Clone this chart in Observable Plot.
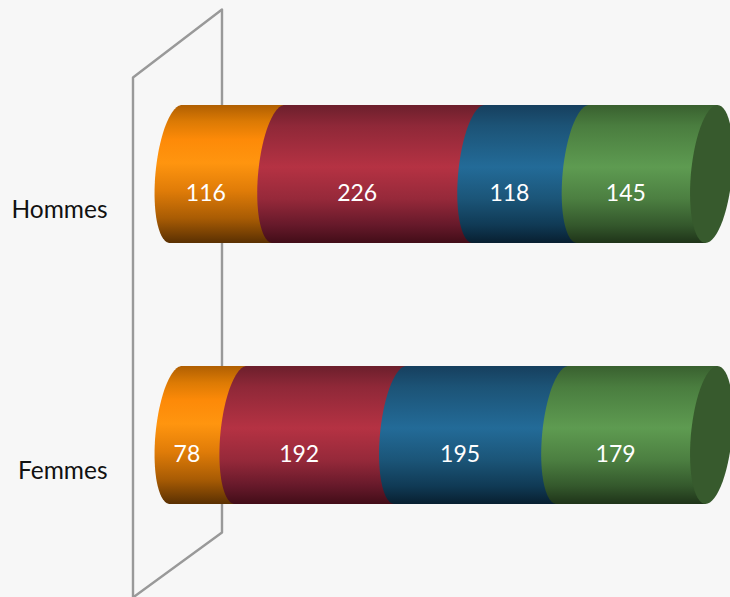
<!DOCTYPE html>
<html>
<head>
<meta charset="utf-8">
<script src="https://cdn.jsdelivr.net/npm/d3@7"></script>
<script src="https://cdn.jsdelivr.net/npm/@observablehq/plot@0.6"></script>
<style>html,body{margin:0;padding:0;background:#f7f7f7;overflow:hidden}svg{display:block}</style>
</head>
<body>
<div id="chart"></div>
<script>
const groups = ["Hommes", "Femmes"];
const series = ["s1", "s2", "s3", "s4"];
const hommes = [116, 226, 118, 145];
const femmes = [78, 192, 195, 179];
const gradients = {
  s1: [[0,"#b05f02"],[.12,"#dc7a04"],[.25,"#fd8a08"],[.42,"#ff950f"],[.62,"#e07c08"],[.82,"#a95c04"],[1,"#5a3002"]],
  s2: [[0,"#6c1f2c"],[.15,"#8f2838"],[.45,"#b53243"],[.68,"#96293a"],[.87,"#66192a"],[1,"#420d18"]],
  s3: [[0,"#163f5e"],[.15,"#1c5376"],[.45,"#236b98"],[.68,"#1b5578"],[.87,"#103a55"],[1,"#081f30"]],
  s4: [[0,"#39602f"],[.15,"#4a7d3f"],[.45,"#5e9b51"],[.68,"#4c7f41"],[.87,"#34582c"],[1,"#1f3419"]]
};
const capColor = "#375a2d";
const wallColor = "#999999";

const rows = groups.flatMap((g, i) =>
  series.map((s, j) => ({group: g, series: s, value: (i === 0 ? hommes : femmes)[j]}))
);

// cylinder cross-section: a sheared ellipse
const rx = 20.6, skew = -6;
function crossSection(cx, y1, y2, t0, t1) {
  const cy = (y1 + y2) / 2, ry = (y2 - y1) / 2, pts = [];
  for (let k = 0; k <= 60; k++) {
    const t = t0 + (t1 - t0) * k / 60;
    pts.push([cx + rx * Math.cos(t) + skew * Math.sin(t), cy + ry * Math.sin(t)]);
  }
  return pts;
}
const line = d3.line();

const defsMark = () => {
  const defs = d3.create("svg:defs");
  for (const s of series) {
    const g = defs.append("linearGradient").attr("id", "grad-" + s)
      .attr("x1", 0).attr("x2", 0).attr("y1", 0).attr("y2", 1);
    for (const [o, c] of gradients[s]) g.append("stop").attr("offset", o).attr("stop-color", c);
  }
  return defs.node();
};

// the 3D back wall of the category axis, placed relative to the scales
const wallMark = (index, {x, y}) => {
  const top = y(groups[0]) - 27.5, drop = 520, backRise = 68, backDrop = 455;
  const xf = x(0) - 43, xb = x(0) + 46;
  return d3.create("svg:path")
    .attr("d", line([[xf, top + drop], [xf, top], [xb, top - backRise], [xb, top + backDrop], [xf, top + drop]]))
    .attr("fill", "none").attr("stroke", wallColor).attr("stroke-width", 2.4).attr("stroke-linejoin", "round").node();
};

const cylinderRender = (index, scales, {x1, x2, y}) => {
  const g = d3.create("svg:g");
  const bw = scales.y.bandwidth();
  for (const i of index) {
    const s = rows[i].series, t = y[i], b = y[i] + bw;
    const left = crossSection(x1[i], t, b, -Math.PI / 2, -3 * Math.PI / 2);
    const path = [...left, [x2[i] + skew, b], [x2[i] - skew, t]];
    g.append("path").attr("d", line(path) + "Z").attr("fill", `url(#grad-${s})`);
    if (s === series[series.length - 1]) {
      g.append("path")
        .attr("d", line(crossSection(x2[i], t, b, 0, 2 * Math.PI)) + "Z")
        .attr("fill", capColor);
    }
  }
  return g.node();
};

const stackOpts = {x: "value", y: "group", z: "series", offset: "normalize", order: null};

const plot = Plot.plot({
  width: 730,
  height: 597,
  marginLeft: 176,
  marginRight: 18.5,
  marginTop: 43,
  marginBottom: 30.5,
  style: {background: "#f7f7f7", fontFamily: "Lato, 'Open Sans', sans-serif", fontWeight: 400, overflow: "hidden"},
  x: {domain: [0, 1], axis: null},
  y: {domain: groups, paddingInner: 0.47, paddingOuter: 0.235, label: null},
  marks: [
    defsMark,
    wallMark,
    Plot.barX(rows, Plot.stackX({...stackOpts, render: cylinderRender})),
    Plot.text(rows, Plot.stackX({...stackOpts, text: "value", fill: "white", fontSize: 23, dx: -22, dy: 19.5})),
    Plot.axisY({tickSize: 0, tickPadding: 69, dy: 35.5, fontSize: 24.5, fill: "#111", label: null})
  ]
});
document.getElementById("chart").append(plot);
</script>
</body>
</html>
